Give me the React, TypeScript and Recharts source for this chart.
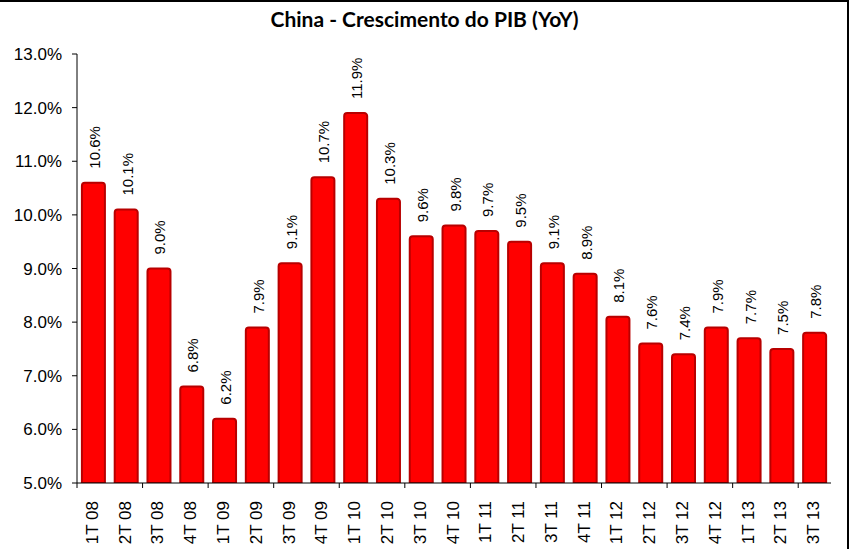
import { BarChart, Bar, XAxis, YAxis, LabelList } from 'recharts'

const quarters = [
  '1T 08', '2T 08', '3T 08', '4T 08',
  '1T 09', '2T 09', '3T 09', '4T 09',
  '1T 10', '2T 10', '3T 10', '4T 10',
  '1T 11', '2T 11', '3T 11', '4T 11',
  '1T 12', '2T 12', '3T 12', '4T 12',
  '1T 13', '2T 13', '3T 13',
]
const growth = [
  10.6, 10.1, 9.0, 6.8,
  6.2, 7.9, 9.1, 10.7,
  11.9, 10.3, 9.6, 9.8,
  9.7, 9.5, 9.1, 8.9,
  8.1, 7.6, 7.4, 7.9,
  7.7, 7.5, 7.8,
]
const yTicks = [5, 6, 7, 8, 9, 10, 11, 12, 13]

const W = 849
const H = 549
const M = { top: 54, right: 18, bottom: 0, left: 0 }
const Y_AXIS_W = 77
const band = (W - M.left - M.right - Y_AXIS_W) / quarters.length

const data = quarters.map((q, i) => ({ q, value: growth[i] }))

const font = '"Liberation Sans", Arial, sans-serif'
const pct = (v: number) => `${v.toFixed(1)}%`

function QuarterTick(props: any) {
  const { x, y, payload, index } = props
  const ty = y + 10
  return (
    <g>
      {index % 2 === 0 && (
        <line x1={x - band / 2} x2={x - band / 2} y1={y - 8} y2={y - 3} stroke="#000" />
      )}
      <text
        x={x - 1}
        y={ty}
        transform={`rotate(-90 ${x - 1} ${ty})`}
        textAnchor="end"
        dominantBaseline="central"
        fontSize={17}
        fontFamily={font}
        fill="#000"
      >
        {payload.value}
      </text>
    </g>
  )
}

function ValueLabel(props: any) {
  const { x, y, width, value } = props
  const cx = x + width / 2 + 1
  const ty = y - 14
  return (
    <text
      x={cx}
      y={ty}
      transform={`rotate(-90 ${cx} ${ty})`}
      textAnchor="start"
      dominantBaseline="central"
      fontSize={15}
      fontFamily={font}
      fill="#000"
    >
      {pct(value)}
    </text>
  )
}

export default function App() {
  return (
    <div style={{ position: 'absolute', left: 0, top: 0, width: W, height: H, background: '#fff' }}>
      <div
        style={{
          position: 'absolute',
          left: 0,
          top: 0,
          width: W,
          height: H,
          boxSizing: 'border-box',
          borderTop: '2px solid #000',
          borderRight: '2px solid #000',
          pointerEvents: 'none',
        }}
      />
      <div
        style={{
          position: 'absolute',
          left: 0,
          top: 6,
          width: W,
          textAlign: 'center',
          fontFamily: 'Lato, sans-serif',
          fontWeight: 700,
          fontSize: 21,
          lineHeight: 1.2,
          color: '#000',
        }}
      >
        China - Crescimento do PIB (YoY)
      </div>
      <BarChart width={W} height={H} data={data} margin={M} barCategoryGap="15%">
        <XAxis
          dataKey="q"
          interval={0}
          height={66}
          axisLine={{ stroke: '#000' }}
          tickLine={false}
          tick={<QuarterTick />}
        />
        <YAxis
          width={Y_AXIS_W}
          domain={[5, 13]}
          ticks={yTicks}
          allowDataOverflow
          tickFormatter={pct}
          axisLine={{ stroke: '#000' }}
          tickLine={{ stroke: '#000' }}
          tickSize={5}
          tickMargin={10}
          tick={{ fill: '#000', fontSize: 17, fontFamily: font }}
        />
        <Bar
          dataKey="value"
          fill="#ff0000"
          stroke="#b80000"
          strokeWidth={2}
          radius={[3, 3, 0, 0]}
          isAnimationActive={false}
        >
          <LabelList dataKey="value" content={<ValueLabel />} />
        </Bar>
      </BarChart>
    </div>
  )
}
